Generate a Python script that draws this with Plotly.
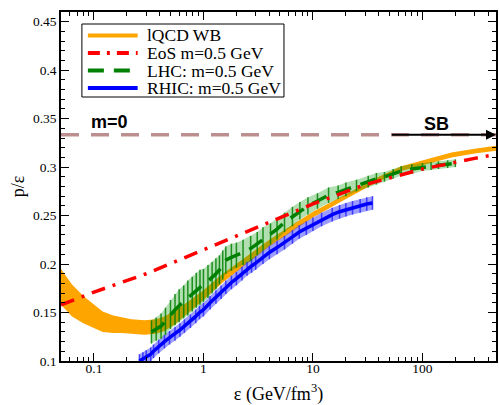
import numpy as np
import plotly.graph_objects as go

# lQCD WB band
lqcd_x = [0.05, 0.063, 0.08, 0.1, 0.12, 0.15, 0.18, 0.22, 0.29, 0.37, 0.44, 0.55, 0.7, 1.0, 1.5, 2.6, 4, 5.6, 10, 20, 35, 64, 100, 184, 300, 470]
lqcd_hi = [0.195, 0.179, 0.167, 0.158, 0.151, 0.147, 0.145, 0.143, 0.142, 0.143, 0.146, 0.152, 0.160, 0.173, 0.190, 0.210, 0.225, 0.236, 0.254, 0.272, 0.287, 0.301, 0.307, 0.315, 0.319, 0.322]
lqcd_lo = [0.158, 0.146, 0.139, 0.134, 0.130, 0.129, 0.129, 0.128, 0.127, 0.128, 0.131, 0.138, 0.148, 0.163, 0.181, 0.202, 0.218, 0.229, 0.248, 0.267, 0.282, 0.296, 0.302, 0.310, 0.314, 0.317]

# EoS m=0.5 GeV
eos_x = [0.05, 0.1, 0.3, 1, 3, 10, 30, 100, 300, 470]
eos_y = [0.158, 0.171, 0.190, 0.215, 0.237, 0.262, 0.282, 0.298, 0.309, 0.313]

# LHC
lhc_x = [0.335, 0.37, 0.41, 0.45, 0.5, 0.55, 0.6, 0.66, 0.72, 0.79, 0.86, 0.93, 1.0, 1.1, 1.2, 1.3, 1.4, 1.5, 1.6, 1.8, 2.0, 2.3, 2.7, 3.1, 3.5, 4.1, 4.7, 5.5, 6.5, 7.6, 9, 11, 13.9, 17, 20, 25, 32, 38, 45, 54, 64, 80, 100, 120, 140, 170, 200]
lhc_y = [0.130, 0.133, 0.136, 0.141, 0.148, 0.153, 0.157, 0.161, 0.165, 0.169, 0.173, 0.176, 0.178, 0.182, 0.186, 0.190, 0.194, 0.199, 0.204, 0.207, 0.209, 0.212, 0.216, 0.221, 0.226, 0.231, 0.236, 0.243, 0.249, 0.255, 0.260, 0.265, 0.271, 0.274, 0.277, 0.281, 0.285, 0.288, 0.290, 0.293, 0.296, 0.298, 0.300, 0.301, 0.302, 0.303, 0.304]
lhc_err = [0.012, 0.012, 0.013, 0.014, 0.015, 0.016, 0.017, 0.017, 0.018, 0.018, 0.018, 0.018, 0.017, 0.017, 0.016, 0.016, 0.015, 0.015, 0.014, 0.014, 0.013, 0.013, 0.013, 0.012, 0.012, 0.011, 0.011, 0.010, 0.010, 0.009, 0.009, 0.008, 0.008, 0.007, 0.007, 0.006, 0.006, 0.006, 0.005, 0.005, 0.005, 0.005, 0.004, 0.004, 0.004, 0.004, 0.004]

# RHIC
rhic_x = [0.26, 0.28, 0.3, 0.33, 0.35, 0.39, 0.44, 0.49, 0.55, 0.61, 0.67, 0.76, 0.85, 0.92, 1.0, 1.15, 1.3, 1.45, 1.6, 1.8, 2.0, 2.25, 2.5, 2.75, 3.0, 3.5, 4.0, 4.7, 5.5, 6.5, 7.5, 8.7, 10, 12, 15, 17.5, 20, 23, 27, 31, 35]
rhic_y = [0.100, 0.102, 0.104, 0.107, 0.110, 0.115, 0.120, 0.124, 0.128, 0.132, 0.136, 0.141, 0.146, 0.150, 0.153, 0.160, 0.166, 0.171, 0.176, 0.181, 0.185, 0.190, 0.195, 0.198, 0.201, 0.207, 0.212, 0.217, 0.222, 0.228, 0.233, 0.237, 0.241, 0.246, 0.251, 0.254, 0.256, 0.258, 0.260, 0.262, 0.263]
rhic_err = [0.007] * len(rhic_x)

series_names = ["lQCD WB", "EoS m=0.5 GeV", "LHC: m=0.5 GeV", "RHIC: m=0.5 GeV"]

sb_value = 1.0 / 3.0

SERIF = "Liberation Serif"
SANS = "Liberation Sans"
C_ORANGE = "#ffa500"
C_RED = "#ff0000"
C_GREEN = "#008000"
C_BLUE = "#0000ff"
DASH_EOS = "14px,8px,3px,8px"
DASH_LHC = "16px,10px"

fig = go.Figure()

# SB limit line (m=0)
fig.add_trace(go.Scatter(x=[0.05, 470], y=[sb_value, sb_value], mode="lines",
                         line=dict(color="#bc8f8f", width=3.5, dash="18px,12px"),
                         showlegend=False, hoverinfo="skip"))

# lQCD band
fig.add_trace(go.Scatter(x=lqcd_x, y=lqcd_lo, mode="lines", line=dict(width=0, color=C_ORANGE),
                         showlegend=False, hoverinfo="skip"))
fig.add_trace(go.Scatter(x=lqcd_x, y=lqcd_hi, mode="lines", line=dict(width=0, color=C_ORANGE),
                         fill="tonexty", fillcolor=C_ORANGE, showlegend=False, name=series_names[0]))

rhic_lo = [y - e for y, e in zip(rhic_y, rhic_err)]
rhic_hi = [y + e for y, e in zip(rhic_y, rhic_err)]
lhc_lo = [y - e for y, e in zip(lhc_y, lhc_err)]
lhc_hi = [y + e for y, e in zip(lhc_y, lhc_err)]

# RHIC
fig.add_trace(go.Scatter(x=rhic_x, y=rhic_lo, mode="lines", line=dict(width=0, color=C_BLUE),
                         showlegend=False, hoverinfo="skip"))
fig.add_trace(go.Scatter(x=rhic_x, y=rhic_hi, mode="lines", line=dict(width=0, color=C_BLUE),
                         fill="tonexty", fillcolor="rgba(60,60,255,0.5)", showlegend=False, hoverinfo="skip"))
fig.add_trace(go.Scatter(x=rhic_x, y=rhic_y, mode="lines", name=series_names[3], showlegend=False,
                         line=dict(color=C_BLUE, width=3.5),
                         error_y=dict(type="data", array=rhic_err, width=0, thickness=1.5,
                                      color="rgba(40,40,255,0.85)")))

# LHC
fig.add_trace(go.Scatter(x=lhc_x, y=lhc_lo, mode="lines", line=dict(width=0, color=C_GREEN),
                         showlegend=False, hoverinfo="skip"))
fig.add_trace(go.Scatter(x=lhc_x, y=lhc_hi, mode="lines", line=dict(width=0, color=C_GREEN),
                         fill="tonexty", fillcolor="rgba(0,150,0,0.3)", showlegend=False, hoverinfo="skip"))
fig.add_trace(go.Scatter(x=lhc_x, y=lhc_y, mode="lines", name=series_names[2], showlegend=False,
                         line=dict(color=C_GREEN, width=3.5, dash=DASH_LHC),
                         error_y=dict(type="data", array=lhc_err, width=0, thickness=1.5,
                                      color="rgba(0,128,0,0.85)")))

# EoS
fig.add_trace(go.Scatter(x=eos_x, y=eos_y, mode="lines", name=series_names[1], showlegend=False,
                         line=dict(color=C_RED, width=3.5, dash=DASH_EOS)))

x_minor = [m * 10 ** d for d in range(-2, 3) for m in range(2, 10)]
x_minor = [v for v in x_minor if 0.05 <= v <= 470]

fig.update_layout(
    width=499, height=405,
    margin=dict(l=61, r=1, t=12, b=44),
    plot_bgcolor="white", paper_bgcolor="white",
    font=dict(family=SERIF, size=13, color="black"),
    showlegend=False,
    xaxis=dict(type="log", range=[np.log10(0.05), np.log10(470)],
               tickvals=[0.1, 1, 10, 100], ticktext=["0.1", "1", "10", "100"],
               ticks="inside", ticklen=8, tickwidth=1, tickcolor="black",
               showline=True, linecolor="black", linewidth=1.5, mirror="allticks",
               showgrid=False, zeroline=False, ticklabelstandoff=-6,
               minor=dict(tickvals=x_minor, ticks="inside", ticklen=4, tickwidth=1, tickcolor="black", showgrid=False),
               title=dict(text="ε (GeV/fm<sup>3</sup>)", font=dict(family=SERIF, size=18), standoff=12),
               tickfont=dict(family=SERIF, size=13.5)),
    yaxis=dict(range=[0.1, 0.46], tickvals=[0.1, 0.15, 0.2, 0.25, 0.3, 0.35, 0.4, 0.45],
               ticktext=["0.1", "0.15", "0.2", "0.25", "0.3", "0.35", "0.4", "0.45"],
               ticks="inside", ticklen=8, tickwidth=1, tickcolor="black",
               showline=True, linecolor="black", linewidth=1.5, mirror="allticks",
               showgrid=False, zeroline=False,
               minor=dict(dtick=0.01, tick0=0.1, ticks="inside", ticklen=4, tickwidth=1, tickcolor="black", showgrid=False),
               title=dict(text="p/ε", font=dict(family=SERIF, size=18), standoff=4),
               tickfont=dict(family=SERIF, size=13.5)),
)

# custom legend box (paper coordinates)
PLOT_L, PLOT_W, PLOT_B, PLOT_H = 61, 437, 361, 349
def px_x(p):
    return (p - PLOT_L) / PLOT_W
def px_y(p):
    return (PLOT_B - p) / PLOT_H

fig.add_shape(type="rect", xref="paper", yref="paper", x0=px_x(82), x1=px_x(285), y0=px_y(97), y1=px_y(24),
              line=dict(color="black", width=1), fillcolor="white", layer="above")
legend_styles = [dict(color=C_ORANGE, width=4, dash="solid"),
                 dict(color=C_RED, width=4, dash="12px,7px,3px,7px"),
                 dict(color=C_GREEN, width=4, dash="16px,10px"),
                 dict(color=C_BLUE, width=4, dash="solid")]
row_py = [35.5, 53, 70.5, 88]
for name, st, py in zip(series_names, legend_styles, row_py):
    fig.add_shape(type="line", xref="paper", yref="paper", x0=px_x(88), x1=px_x(138), y0=px_y(py), y1=px_y(py),
                  line=st, layer="above")
    fig.add_annotation(x=px_x(145), y=px_y(py), xref="paper", yref="paper", text=name, showarrow=False,
                       xanchor="left", yanchor="middle", font=dict(family=SERIF, size=17.5, color="black"))

fig.add_annotation(x=np.log10(0.14), y=0.347, xref="x", yref="y", text="<b>m=0</b>", showarrow=False,
                   font=dict(family=SANS, size=18, color="black"))
fig.add_annotation(x=np.log10(134), y=0.344, xref="x", yref="y", text="<b>SB</b>", showarrow=False,
                   font=dict(family=SANS, size=18, color="black"))
fig.add_annotation(x=np.log10(470), y=sb_value, ax=np.log10(51), ay=sb_value,
                   xref="x", yref="y", axref="x", ayref="y", text="", showarrow=True,
                   arrowhead=2, arrowsize=1, arrowwidth=2, arrowcolor="black")

fig.write_html("out.html")
